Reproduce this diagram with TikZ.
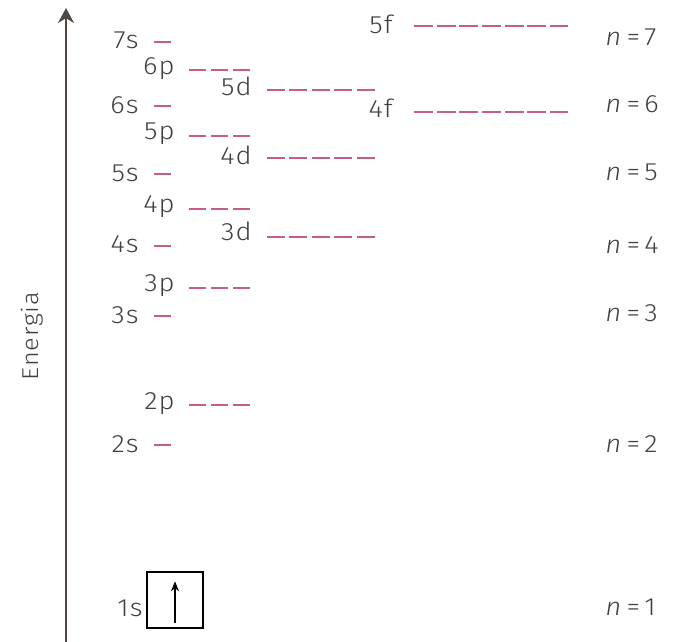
\documentclass[tikz,border=0pt]{standalone}
\usepackage{fontspec}
\setmainfont{Fira Sans Light}[FakeStretch=1.1, LetterSpace=4]
\usetikzlibrary{arrows.meta}
\definecolor{lvl}{RGB}{196,92,140}
\definecolor{txt}{RGB}{64,64,64}
\definecolor{axis}{RGB}{80,70,66}
\begin{document}
\begin{tikzpicture}[
  x=0.5pt, y=-0.5pt,
  lab/.style={font=\fontsize{12.5}{14}\selectfont, text=txt, inner sep=0pt, anchor=east},
  nlab/.style={lab, anchor=west},
  sorb/.style={draw=lvl, line width=1pt},
  porb/.style={sorb, dash pattern=on 8.5pt off 2.5pt},
  dorb/.style={sorb, dash pattern=on 9pt off 2.25pt},
  forb/.style={sorb, dash pattern=on 9.5pt off 1.85pt},
  arr/.style={-{Stealth[length=7.5pt, width=8pt]}, line width=1pt}
]
\useasboundingbox (0,0) rectangle (677,642);

% energy axis
\coordinate (axbot) at (66,642);
\coordinate (axtop) at (66,8);
\draw[arr, axis] (axbot) -- (axtop);
\node[font=\fontsize{11.5}{13}\selectfont, text=txt, rotate=90] (energia) at (32,336) {Energia};

% s levels
\node[lab] (s7) at (139,40) {7s};
\node[lab] (s6) at (139,105) {6s};
\node[lab] (s5) at (139,173) {5s};
\node[lab] (s4) at (139,244) {4s};
\node[lab] (s3) at (139,315) {3s};
\node[lab] (s2) at (139,444) {2s};
\node[lab] (s1) at (143,608) {1s};
\draw[sorb] (154,42) -- (171,42);
\draw[sorb] (154,106) -- (171,106);
\draw[sorb] (154,174) -- (171,174);
\draw[sorb] (154,246) -- (171,246);
\draw[sorb] (154,316) -- (171,316);
\draw[sorb] (154,445) -- (171,445);

% p levels
\node[lab] (p6) at (175,69) {6p};
\node[lab] (p5) at (175,134) {5p};
\node[lab] (p4) at (175,207) {4p};
\node[lab] (p3) at (175,286) {3p};
\node[lab] (p2) at (175,404) {2p};
\draw[porb] (189,70) -- (252,70);
\draw[porb] (189,136) -- (252,136);
\draw[porb] (189,209) -- (252,209);
\draw[porb] (189,288) -- (252,288);
\draw[porb] (189,405) -- (252,405);

% d levels
\node[lab] (d5) at (252,86) {5d};
\node[lab] (d4) at (252,155) {4d};
\node[lab] (d3) at (252,231) {3d};
\draw[dorb] (267,90) -- (378,90);
\draw[dorb] (267,158) -- (378,158);
\draw[dorb] (267,237) -- (378,237);

% f levels
\node[lab] (f5) at (393,24) {5f};
\node[lab] (f4) at (393,108) {4f};
\draw[forb] (414,26) -- (568,26);
\draw[forb] (414,112) -- (568,112);

% shells
\node[nlab] (n7) at (605,37) {\textit{n}\,=\,7};
\node[nlab] (n6) at (605,104) {\textit{n}\,=\,6};
\node[nlab] (n5) at (605,172) {\textit{n}\,=\,5};
\node[nlab] (n4) at (605,245) {\textit{n}\,=\,4};
\node[nlab] (n3) at (605,313) {\textit{n}\,=\,3};
\node[nlab] (n2) at (605,444) {\textit{n}\,=\,2};
\node[nlab] (n1) at (605,607) {\textit{n}\,=\,1};

% 1s box with electron
\node[draw, line width=0.7pt, minimum width=28pt, minimum height=28pt, inner sep=0pt] (box) at (175,600) {};
\draw[-{Stealth[length=5pt, width=4pt]}, line width=0.6pt] ([yshift=3pt]box.south) -- ([yshift=-5pt]box.north);
\end{tikzpicture}
\end{document}
